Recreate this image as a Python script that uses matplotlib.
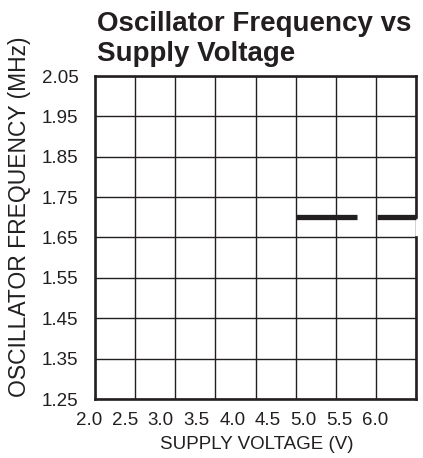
import numpy as np
import matplotlib
matplotlib.use('Agg')
import matplotlib.pyplot as plt

# 字体配置
plt.rcParams.update({
    "font.family": ['Liberation Sans', 'DejaVu Sans'],
    "font.size": 13.5,
    "text.color": '#231f20',
})

ink = '#231f20'

# 数据
volt_ticks = [2.0, 2.5, 3.0, 3.5, 4.0, 4.5, 5.0, 5.5, 6.0]
freq_ticks = [1.25, 1.35, 1.45, 1.55, 1.65, 1.75, 1.85, 1.95, 2.05]
seg1_v = [4.89, 5.74]
seg2_v = [6.02, 6.57]
freq_level = 1.70
gap_lo, gap_hi = 1.65, 1.70   # 右边框断开的区间

fig = plt.figure(figsize=(4.23, 4.58), dpi=100)
ax = fig.add_axes([95 / 423, 1 - 399 / 458, 321 / 423, 323 / 458])

xmin, xmax = 2.084, 6.567
ax.set_xlim(xmin, xmax)
ax.set_ylim(freq_ticks[0], freq_ticks[-1])

# 网格：8列 x 8行
ax.set_xticks(np.linspace(xmin, xmax, 9))
ax.set_xticklabels([])
ax.set_yticks(freq_ticks)
ax.set_yticklabels([f'{v:.2f}' for v in freq_ticks])
ax.tick_params(axis='both', length=0, colors=ink)
ax.tick_params(axis='y', pad=12, labelsize=13.5)
ax.grid(True, color=ink, lw=1.0)

for side in ['left', 'top', 'bottom']:
    ax.spines[side].set_linewidth(1.9)
    ax.spines[side].set_color(ink)
ax.spines['right'].set_visible(False)
# 右边框分两段
ax.plot([xmax, xmax], [freq_ticks[-1], gap_hi], color=ink, lw=1.9, clip_on=False, solid_capstyle='projecting')
ax.plot([xmax, xmax], [gap_lo, freq_ticks[0]], color=ink, lw=1.9, clip_on=False, solid_capstyle='projecting')

# 横轴刻度文字（与网格线不对齐）
for v in volt_ticks:
    ax.text(v, -0.081, f'{v:.1f}', transform=ax.get_xaxis_transform(),
            ha='center', va='baseline', fontsize=13.5, color=ink)

# 频率曲线
ax.plot(seg1_v, [freq_level, freq_level], color=ink, lw=3.8, solid_capstyle='butt', clip_on=False)
ax.plot(seg2_v, [freq_level, freq_level], color=ink, lw=3.8, solid_capstyle='butt', clip_on=False)

ax.set_xlabel('SUPPLY VOLTAGE (V)', fontsize=13.5, color=ink)
ax.xaxis.set_label_coords(0.505, -0.115)
ax.set_ylabel('OSCILLATOR FREQUENCY (MHz)', fontsize=16.5, color=ink)
ax.yaxis.set_label_coords(-0.2, 0.565)

# 标题
fig.text(97 / 423, 1 - 11 / 458, 'Oscillator Frequency vs\nSupply Voltage',
         ha='left', va='top', fontsize=20, fontweight='bold', linespacing=1.2, color=ink)

plt.savefig('out.png', dpi=100)
